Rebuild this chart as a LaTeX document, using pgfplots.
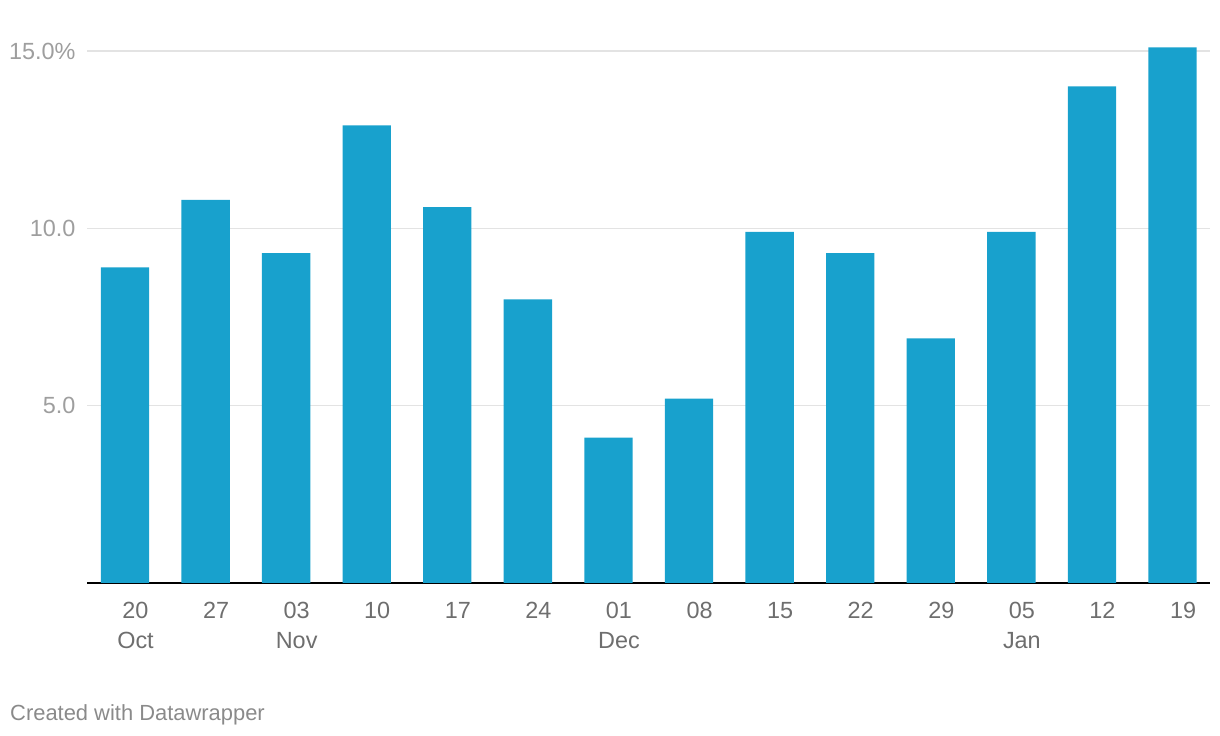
\documentclass[border=0pt]{standalone}
\usepackage{pgfplots}
\pgfplotsset{compat=1.18}
\usepackage{fontspec}
\setmainfont{Liberation Sans}
\definecolor{barblue}{HTML}{18A1CD}
\definecolor{gridgray}{HTML}{E3E3E3}
\definecolor{ylab}{HTML}{9E9E9E}
\definecolor{xlab}{HTML}{6E6E6E}
\definecolor{credit}{HTML}{8A8A8A}
\begin{document}
\begin{tikzpicture}
\path[use as bounding box] (0,0) rectangle (1220bp,736bp);
\begin{axis}[
  at={(87bp,153bp)}, anchor=south west,
  scale only axis, width=1123bp, height=532bp,
  xmin=-0.4716, xmax=13.465, ymin=0, ymax=15,
  clip=false,
  ybar, bar width=0.6,
  axis x line*=bottom, axis y line*=left,
  x axis line style={black, line width=1.8bp, -},
  y axis line style={draw=none},
  major tick length=0,
  xtick={0,...,13},
  xticklabels={20\\Oct,27,03\\Nov,10,17,24,01\\Dec,08,15,22,29,05\\Jan,12,19},
  xticklabel style={align=center, anchor=north, yshift=-16bp, xshift=10.5bp, text=xlab,
    font=\fontsize{23.5}{30}\selectfont},
  ytick={5,10,15},
  yticklabels={5.0,10.0,15.0\%},
  yticklabel style={anchor=east, xshift=-8bp, text=ylab, font=\fontsize{23.5}{28}\selectfont},
  ymajorgrids,
  grid style={gridgray, line width=1.5bp},
]
\addplot[fill=barblue, draw=none] coordinates {
  (0,8.9) (1,10.8) (2,9.3) (3,12.9) (4,10.6) (5,8.0) (6,4.1)
  (7,5.2) (8,9.9) (9,9.3) (10,6.9) (11,9.9) (12,14.0) (13,15.1)
};
\end{axis}
\node[anchor=base west, inner sep=0, text=credit, font=\fontsize{22}{26}\selectfont] at (10bp,16bp) {Created with Datawrapper};
\end{tikzpicture}
\end{document}
